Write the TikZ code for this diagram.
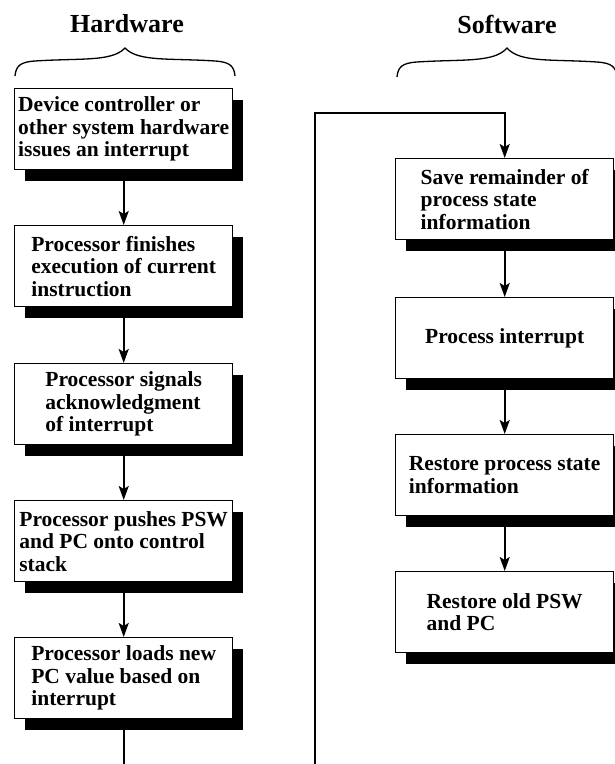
\documentclass[tikz,border=0pt]{standalone}
\usepackage{fontspec}
\setmainfont{Liberation Serif}
\usetikzlibrary{shadows,arrows.meta}

\begin{document}
\begin{tikzpicture}[x=1pt,y=-1pt,
  stepbox/.style={draw, line width=1.4pt, fill=white, anchor=north west,
    minimum width=218pt, minimum height=81pt, inner sep=0pt, align=left,
    font=\bfseries\fontsize{21.5}{22.5}\selectfont,
    general shadow={fill=black, shadow xshift=10pt, shadow yshift=-11pt}},
  flow/.style={line width=1.8pt, -{Stealth[length=14pt,width=10pt,inset=3pt]}},
  wire/.style={line width=1.8pt},
  heading/.style={font=\bfseries\fontsize{26}{30}\selectfont, anchor=base},
  curly/.style={line width=1.3pt}
]
\useasboundingbox (0,0) rectangle (614,764);

% column headings
\node[heading] (hw) at (127,32) {Hardware};
\node[heading] (sw) at (507,33) {Software};

% curly braces under the headings
\draw[curly] (15,76) .. controls (16,66) and (20,62) .. (35,61)
  .. controls (80,58) and (112,62) .. (125,48)
  .. controls (138,62) and (170,58) .. (215,61)
  .. controls (230,62) and (234,66) .. (235,76);
\draw[curly] (397,77) .. controls (398,67) and (402,63) .. (417,62)
  .. controls (462,59) and (494,63) .. (507,48)
  .. controls (520,63) and (552,59) .. (597,62)
  .. controls (612,63) and (616,67) .. (617,77);

% hardware steps
\node[stepbox] (h1) at (14,88)  {Device controller or\\other system hardware\\issues an interrupt};
\node[stepbox] (h2) at (14,225) {Processor finishes\\execution of current\\instruction};
\node[stepbox] (h3) at (14,363) {Processor signals\\acknowledgment\\of interrupt};
\node[stepbox] (h4) at (14,500) {Processor pushes PSW\\and PC onto control\\stack};
\node[stepbox] (h5) at (14,637) {Processor loads new\\PC value based on\\interrupt};

% software steps
\node[stepbox] (s1) at (395,158) {Save remainder of\\process state\\information};
\node[stepbox] (s2) at (395,297) {Process interrupt};
\node[stepbox] (s3) at (395,434) {Restore process state\\information};
\node[stepbox] (s4) at (395,571) {Restore old PSW\\and PC};

% hardware flow
\draw[flow] (h1) -- (h2);
\draw[flow] (h2) -- (h3);
\draw[flow] (h3) -- (h4);
\draw[flow] (h4) -- (h5);
\coordinate (hout) at (h5.south |- 0,766);
\draw[wire] (h5) -- (hout);

% hand-over to software
\coordinate (sin) at (315,766);
\coordinate (corner) at (315,113);
\draw[flow] (sin) -- (corner) -| (s1);

% software flow
\draw[flow] (s1) -- (s2);
\draw[flow] (s2) -- (s3);
\draw[flow] (s3) -- (s4);
\end{tikzpicture}
\end{document}
